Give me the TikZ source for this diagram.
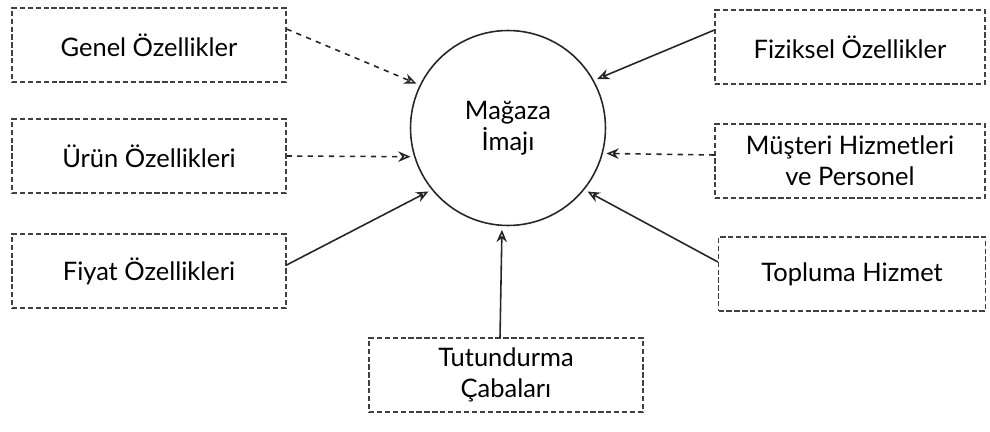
\documentclass[tikz,border=0pt]{standalone}
\usepackage{fontspec}
\setmainfont{Lato}
\usepackage{tikz}
\usetikzlibrary{arrows.meta,calc}

\begin{document}
\begin{tikzpicture}[
  x=0.02cm, y=-0.02cm,
  >={Stealth[open,length=7pt,width=6pt]},
  fbox/.style={draw=black!75, dash pattern=on 3pt off 1.5pt, rectangle,
               minimum width=5.48cm, minimum height=1.48cm, align=center,
               line width=0.7pt, font=\fontsize{14.5}{17.5}\selectfont},
  core/.style={draw=black!85, circle, minimum size=3.9cm, align=center,
               line width=0.9pt, font=\fontsize{14.5}{17.5}\selectfont},
  farr/.style={->, black!85, line width=0.9pt, shorten >=2pt},
  darr/.style={farr, dashed},
]
\useasboundingbox (0,0) rectangle (990,432);

%%---- Centre ---------------------------------------------------------
\node[core] (magaza) at (508,128) {Mağaza\\İmajı};

%%---- Left column ----------------------------------------------------
\node[fbox] (genel) at (149,45)  {Genel Özellikler};
\node[fbox] (urun)  at (149,156) {Ürün Özellikleri};
\node[fbox] (fiyat) at (149,271) {Fiyat Özellikleri};

%%---- Right column ---------------------------------------------------
\node[fbox, minimum width=5.4cm] (fiziksel) at (850,47)  {Fiziksel Özellikler};
\node[fbox, minimum width=5.4cm] (musteri)  at (850,161) {Müşteri Hizmetleri\\ve Personel};
\node[fbox, minimum width=5.34cm] (topluma) at (852,274) {Topluma Hizmet};

%%---- Bottom ---------------------------------------------------------
\node[fbox] (tutun) at (506,375) {Tutundurma\\Çabaları};

%%---- Arrows into the centre -----------------------------------------
\draw[darr] ([yshift=0.32cm]genel.east) -- (magaza.154);
\draw[darr] (urun.east) -- (magaza.197);
\draw[farr] ([yshift=0.12cm]fiyat.east) -- (magaza.219);
\draw[farr] ([xshift=-0.12cm]tutun.north) -- ([xshift=-0.12cm]magaza.south);
\draw[farr] ([yshift=0.34cm]fiziksel.west) -- (magaza.29);
\draw[darr] ([yshift=0.12cm]musteri.west) -- (magaza.345);
\draw[farr] ([yshift=0.24cm]topluma.west) -- (magaza.321);

\end{tikzpicture}
\end{document}
